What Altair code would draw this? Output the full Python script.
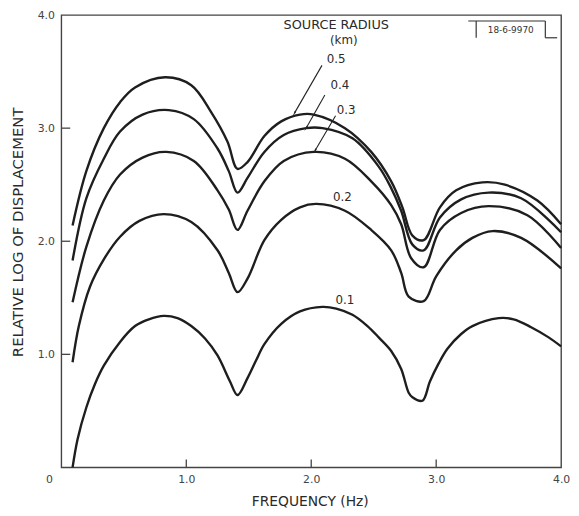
import math
import altair as alt
import pandas as pd

# ---- data ----
freq_01 = [0.09, 0.13, 0.2, 0.27, 0.34, 0.47, 0.59, 0.7, 0.82, 0.93, 1.04, 1.15, 1.25, 1.35, 1.41, 1.49, 1.56, 1.625, 1.76, 1.91, 2.09, 2.2, 2.33, 2.45, 2.54, 2.64, 2.72, 2.78, 2.81, 2.89, 2.95, 3.02, 3.09, 3.2, 3.29, 3.5, 3.62, 3.76, 3.9, 4.0]
disp_01 = [0.0, 0.25, 0.53, 0.74, 0.90, 1.11, 1.25, 1.31, 1.34, 1.32, 1.25, 1.14, 0.99, 0.76, 0.64, 0.79, 0.95, 1.09, 1.27, 1.38, 1.42, 1.405, 1.35, 1.25, 1.15, 1.03, 0.87, 0.66, 0.62, 0.59, 0.76, 0.92, 1.05, 1.18, 1.25, 1.32, 1.31, 1.24, 1.15, 1.07]

freq_02 = [0.09, 0.14, 0.23, 0.34, 0.47, 0.625, 0.82, 1.04, 1.25, 1.34, 1.41, 1.49, 1.625, 1.76, 1.91, 2.04, 2.27, 2.48, 2.64, 2.72, 2.78, 2.90, 3.0, 3.16, 3.29, 3.45, 3.68, 4.0]
disp_02 = [0.93, 1.25, 1.60, 1.84, 2.04, 2.18, 2.24, 2.17, 1.92, 1.72, 1.55, 1.67, 2.01, 2.19, 2.30, 2.33, 2.27, 2.10, 1.92, 1.72, 1.51, 1.47, 1.69, 1.92, 2.03, 2.09, 2.03, 1.76]

freq_03 = [0.09, 0.2, 0.34, 0.47, 0.65, 0.84, 1.06, 1.25, 1.34, 1.41, 1.49, 1.625, 1.78, 2.02, 2.27, 2.48, 2.64, 2.72, 2.80, 2.90, 3.03, 3.2, 3.42, 3.73, 4.0]
disp_03 = [1.46, 1.95, 2.36, 2.59, 2.74, 2.79, 2.71, 2.45, 2.28, 2.10, 2.27, 2.53, 2.71, 2.79, 2.73, 2.53, 2.32, 2.15, 1.85, 1.77, 2.10, 2.25, 2.31, 2.23, 1.94]

freq_04 = [0.09, 0.2, 0.34, 0.47, 0.65, 0.86, 1.06, 1.25, 1.34, 1.41, 1.49, 1.625, 1.78, 1.96, 2.09, 2.33, 2.54, 2.64, 2.72, 2.81, 2.90, 3.03, 3.2, 3.42, 3.68, 4.0]
disp_04 = [1.83, 2.38, 2.73, 2.97, 3.12, 3.16, 3.08, 2.82, 2.62, 2.43, 2.56, 2.79, 2.94, 3.00, 3.00, 2.91, 2.66, 2.47, 2.27, 1.97, 1.92, 2.21, 2.37, 2.43, 2.38, 2.08]

freq_05 = [0.09, 0.2, 0.34, 0.47, 0.59, 0.83, 1.04, 1.2, 1.33, 1.41, 1.49, 1.625, 1.76, 1.91, 2.02, 2.27, 2.48, 2.64, 2.73, 2.81, 2.90, 3.03, 3.16, 3.37, 3.55, 3.81, 4.0]
disp_05 = [2.14, 2.62, 3.00, 3.23, 3.36, 3.45, 3.38, 3.14, 2.88, 2.64, 2.70, 2.93, 3.06, 3.12, 3.12, 3.00, 2.79, 2.53, 2.30, 2.05, 2.01, 2.30, 2.45, 2.52, 2.50, 2.36, 2.15]

radius_names = ["0.1", "0.2", "0.3", "0.4", "0.5"]
series_freq = [freq_01, freq_02, freq_03, freq_04, freq_05]
series_disp = [disp_01, disp_02, disp_03, disp_04, disp_05]

# annotation labels (data units)
label_text = ["SOURCE RADIUS", "(km)", "0.5", "0.4", "0.3", "0.2", "0.1"]
label_freq = [2.20, 2.26, 2.20, 2.23, 2.28, 2.25, 2.27]
label_disp = [3.91, 3.78, 3.61, 3.38, 3.16, 2.39, 1.48]
label_size = [13, 12, 12, 12, 12, 12, 12]

# leader arrows from labels to curves (data units)
arrow_from_freq = [2.086, 2.109, 2.195]
arrow_from_disp = [3.555, 3.293, 3.109]
arrow_to_freq = [1.867, 1.961, 2.031]
arrow_to_disp = [3.135, 3.004, 2.803]

x_label_values = [0, 1, 2, 3, 4]
y_label_values = [1, 2, 3, 4]
x_tick_values = [1, 2, 3]
y_tick_values = [1, 2, 3]

# ---- build tables ----
rows = []
for name, fx, dy in zip(radius_names, series_freq, series_disp):
    for i, (f, d) in enumerate(zip(fx, dy)):
        rows.append({"radius": name, "freq": f, "disp": d, "order": i})
df = pd.DataFrame(rows)

W, H = 506, 458
px_x = W / 4.0
px_y = H / 4.0

arrows = pd.DataFrame({
    "freq": arrow_from_freq, "disp": arrow_from_disp,
    "freq2": arrow_to_freq, "disp2": arrow_to_disp,
})
heads = pd.DataFrame({
    "freq": arrow_to_freq, "disp": arrow_to_disp,
    "ang": [
        (math.degrees(math.atan2((b - a) * px_x, (d - c) * px_y)) + 360) % 360
        for a, b, c, d in zip(arrow_from_freq, arrow_to_freq, arrow_from_disp, arrow_to_disp)
    ],
})
labels = pd.DataFrame({"freq": label_freq, "disp": label_disp, "txt": label_text, "sz": label_size})

FONT = "DejaVu Sans"
INK = "#2a2a2a"

xs = alt.Scale(domain=[0, 4], nice=False, zero=False)
ys = alt.Scale(domain=[0, 4], nice=False, zero=False)
x_axis = alt.Axis(
    values=x_label_values, title=None, ticks=False, domain=False, grid=False,
    labelExpr="datum.value == 0 ? '' : format(datum.value, '.1f')",
    labelPadding=6, labelFont=FONT, labelFontSize=11, labelColor="#444",
    labelFlush=False, labelOverlap=False)
y_axis = alt.Axis(
    values=y_label_values, format=".1f", title=None, ticks=False, domain=False,
    grid=False, labelPadding=7, labelFont=FONT, labelFontSize=11, labelColor="#444",
    labelFlush=False, labelOverlap=False)


def X(field="freq"):
    return alt.X(f"{field}:Q", scale=xs, axis=x_axis)


def Y(field="disp"):
    return alt.Y(f"{field}:Q", scale=ys, axis=y_axis)


lines = alt.Chart(df).mark_line(color="#1e1e1e", strokeWidth=2.4, interpolate="catmull-rom").encode(
    x=X(), y=Y(), detail="radius:N", order="order:Q")

xticks = alt.Chart(pd.DataFrame({"freq": x_tick_values})).mark_rule(color="#444", strokeWidth=1.3).encode(
    x=X(), y=alt.value(H), y2=alt.value(H - 8))
yticks = alt.Chart(pd.DataFrame({"disp": y_tick_values})).mark_rule(color="#444", strokeWidth=1.3).encode(
    y=Y(), x=alt.value(0), x2=alt.value(9))

label_layer = alt.Chart(labels).mark_text(font=FONT, color=INK).encode(
    x=X(), y=Y(), text="txt:N", size=alt.Size("sz:Q", scale=None, legend=None))

arrow_lines = alt.Chart(arrows).mark_rule(color="#222", strokeWidth=1.1).encode(
    x=X(), y=Y(), x2="freq2:Q", y2="disp2:Q")
arrow_heads = alt.Chart(heads).mark_point(shape="wedge", filled=True, color="#222", size=45, opacity=1).encode(
    x=X(), y=Y(), angle=alt.Angle("ang:Q", scale=None))

one = pd.DataFrame({"a": [0]})
origin_lbl = alt.Chart(one).mark_text(font=FONT, fontSize=11, color="#444", text="0").encode(
    x=alt.value(-12), y=alt.value(H + 13))
x_title = alt.Chart(one).mark_text(font=FONT, fontSize=14, color=INK, text="FREQUENCY (Hz)").encode(
    x=alt.value(252), y=alt.value(H + 35))
y_title = alt.Chart(one).mark_text(font=FONT, fontSize=15, color=INK, angle=270,
                                   text="RELATIVE LOG OF DISPLACEMENT").encode(
    x=alt.value(-44), y=alt.value(220))

# stamp box in upper right
stamp_top = alt.Chart(one).mark_rule(color="#333", strokeWidth=1.2).encode(
    x=alt.value(412), x2=alt.value(490), y=alt.value(6))
stamp_left = alt.Chart(one).mark_rule(color="#333", strokeWidth=1.2).encode(
    x=alt.value(420), y=alt.value(6), y2=alt.value(23))
stamp_right = alt.Chart(one).mark_rule(color="#333", strokeWidth=1.2).encode(
    x=alt.value(490), y=alt.value(6), y2=alt.value(23))
stamp_bot = alt.Chart(one).mark_rule(color="#333", strokeWidth=1.2).encode(
    x=alt.value(490), x2=alt.value(502), y=alt.value(23))
stamp_txt = alt.Chart(one).mark_text(font=FONT, fontSize=9, color="#333", text="18-6-9970").encode(
    x=alt.value(455), y=alt.value(15))

chart = alt.layer(
    lines, xticks, yticks, label_layer, arrow_lines, arrow_heads,
    origin_lbl, x_title, y_title,
    stamp_top, stamp_left, stamp_right, stamp_bot, stamp_txt,
).properties(
    width=W, height=H,
    autosize=alt.AutoSizeParams(type="none"),
    padding={"left": 54, "top": 4, "right": 10, "bottom": 44},
).configure_view(
    stroke="#444", strokeWidth=1.4
)

chart.save("out.html", embed_options={"renderer": "svg", "actions": False})
